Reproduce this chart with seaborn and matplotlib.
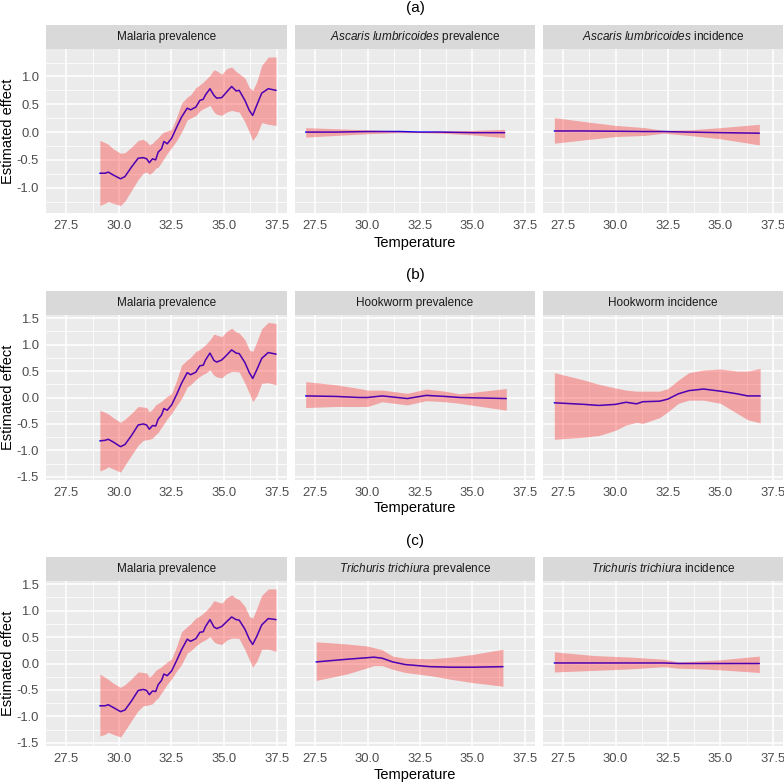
import numpy as np
import pandas as pd
import matplotlib
matplotlib.use("Agg")
import matplotlib.pyplot as plt
import seaborn as sns

# ---- data ----
malaria_temp = [29.10, 29.34, 29.50, 29.73, 30.08, 30.29, 30.60, 30.92, 31.16, 31.32,
                31.45, 31.60, 31.75, 31.87, 32.03, 32.14, 32.30, 32.51, 32.75, 32.98,
                33.25, 33.41, 33.66, 33.85, 34.01, 34.12, 34.33, 34.52, 34.65, 34.89,
                35.12, 35.36, 35.57, 35.72, 35.99, 36.20, 36.36, 36.55, 36.79, 37.10, 37.47]

# (a) malaria
mal_a_fit = [-0.74, -0.74, -0.72, -0.77, -0.84, -0.80, -0.63, -0.47, -0.46, -0.48,
             -0.55, -0.48, -0.50, -0.36, -0.30, -0.17, -0.21, -0.11, 0.09, 0.27,
             0.43, 0.40, 0.45, 0.57, 0.59, 0.67, 0.78, 0.66, 0.61, 0.62,
             0.72, 0.82, 0.74, 0.75, 0.57, 0.39, 0.30, 0.48, 0.70, 0.78, 0.75]
mal_a_hi = [-0.15, -0.19, -0.22, -0.30, -0.38, -0.37, -0.27, -0.15, -0.13, -0.17,
            -0.23, -0.20, -0.14, -0.10, -0.03, 0.00, 0.02, 0.05, 0.27, 0.52,
            0.63, 0.67, 0.80, 0.85, 0.90, 0.94, 1.02, 1.12, 1.10, 1.04,
            1.14, 1.17, 1.09, 1.05, 0.97, 0.80, 0.75, 0.90, 1.20, 1.35, 1.35]
mal_a_lo = [-1.32, -1.28, -1.25, -1.28, -1.32, -1.24, -1.05, -0.85, -0.74, -0.72,
            -0.76, -0.72, -0.65, -0.63, -0.54, -0.48, -0.38, -0.28, -0.15, 0.00,
            0.22, 0.25, 0.30, 0.38, 0.42, 0.44, 0.48, 0.36, 0.32, 0.30,
            0.36, 0.39, 0.37, 0.36, 0.18, 0.00, -0.15, -0.05, 0.17, 0.14, 0.12]

# (b) malaria
mal_b_fit = [-0.82, -0.81, -0.79, -0.84, -0.93, -0.89, -0.72, -0.52, -0.50, -0.52,
             -0.60, -0.53, -0.54, -0.41, -0.33, -0.21, -0.24, -0.14, 0.06, 0.27,
             0.47, 0.43, 0.48, 0.60, 0.61, 0.71, 0.84, 0.70, 0.67, 0.71,
             0.80, 0.90, 0.84, 0.83, 0.66, 0.47, 0.36, 0.52, 0.74, 0.85, 0.82]
mal_b_hi = [-0.24, -0.28, -0.31, -0.38, -0.47, -0.41, -0.30, -0.17, -0.18, -0.19,
            -0.27, -0.22, -0.14, -0.11, -0.07, -0.03, 0.02, 0.08, 0.33, 0.61,
            0.71, 0.76, 0.87, 0.91, 0.96, 1.00, 1.09, 1.20, 1.18, 1.15,
            1.25, 1.31, 1.24, 1.22, 1.09, 0.90, 0.87, 1.05, 1.30, 1.42, 1.40]
mal_b_lo = [-1.39, -1.35, -1.31, -1.35, -1.41, -1.28, -1.09, -0.90, -0.81, -0.80,
            -0.79, -0.77, -0.70, -0.66, -0.56, -0.50, -0.40, -0.30, -0.15, -0.02,
            0.20, 0.24, 0.34, 0.40, 0.44, 0.46, 0.52, 0.42, 0.39, 0.37,
            0.45, 0.49, 0.49, 0.48, 0.27, 0.08, -0.08, 0.03, 0.27, 0.28, 0.24]

# (c) malaria
mal_c_fit = [-0.80, -0.80, -0.78, -0.83, -0.91, -0.88, -0.71, -0.51, -0.49, -0.51,
             -0.59, -0.52, -0.53, -0.40, -0.32, -0.20, -0.23, -0.14, 0.06, 0.26,
             0.46, 0.42, 0.47, 0.59, 0.60, 0.70, 0.83, 0.69, 0.66, 0.70,
             0.79, 0.88, 0.83, 0.82, 0.65, 0.46, 0.36, 0.51, 0.73, 0.85, 0.83]
mal_c_hi = [-0.20, -0.26, -0.30, -0.37, -0.45, -0.40, -0.29, -0.16, -0.17, -0.18,
            -0.26, -0.21, -0.13, -0.10, -0.06, -0.02, 0.03, 0.09, 0.33, 0.60,
            0.70, 0.75, 0.86, 0.90, 0.95, 0.99, 1.08, 1.19, 1.17, 1.14,
            1.24, 1.30, 1.23, 1.21, 1.08, 0.89, 0.86, 1.04, 1.29, 1.41, 1.41]
mal_c_lo = [-1.37, -1.34, -1.30, -1.34, -1.39, -1.27, -1.08, -0.89, -0.80, -0.79,
            -0.78, -0.76, -0.69, -0.65, -0.55, -0.49, -0.39, -0.29, -0.14, -0.02,
            0.20, 0.24, 0.33, 0.39, 0.43, 0.45, 0.51, 0.41, 0.38, 0.36,
            0.44, 0.48, 0.48, 0.47, 0.26, 0.07, -0.07, 0.04, 0.27, 0.27, 0.23]

# (a) Ascaris
asc_prev_temp = [27.05, 28.5, 30.0, 31.5, 32.5, 33.5, 35.0, 36.54]
asc_prev_fit = [0.00, 0.00, 0.01, 0.01, 0.00, 0.00, -0.01, -0.01]
asc_prev_hi = [0.08, 0.06, 0.04, 0.02, 0.01, 0.02, 0.03, 0.05]
asc_prev_lo = [-0.09, -0.06, -0.03, -0.01, -0.01, -0.02, -0.05, -0.10]

asc_inc_temp = [27.08, 28.5, 30.0, 31.4, 32.3, 33.5, 35.0, 36.86]
asc_inc_fit = [0.02, 0.02, 0.015, 0.01, 0.01, 0.00, -0.01, -0.02]
asc_inc_hi = [0.26, 0.19, 0.12, 0.08, 0.03, 0.04, 0.08, 0.14]
asc_inc_lo = [-0.20, -0.14, -0.08, -0.06, -0.02, -0.06, -0.12, -0.23]

# (b) Hookworm
hook_prev_temp = [27.05, 28.5, 29.6, 30.0, 30.7, 31.9, 32.8, 33.7, 34.4, 36.62]
hook_prev_fit = [0.03, 0.02, 0.00, 0.00, 0.03, -0.02, 0.04, 0.02, 0.00, -0.02]
hook_prev_hi = [0.30, 0.24, 0.17, 0.14, 0.14, 0.08, 0.16, 0.12, 0.07, 0.17]
hook_prev_lo = [-0.19, -0.17, -0.17, -0.17, -0.08, -0.14, -0.06, -0.08, -0.11, -0.24]

hook_inc_temp = [27.08, 28.5, 29.2, 30.0, 30.5, 31.0, 31.3, 32.1, 32.5, 33.0,
                 33.5, 34.2, 35.0, 35.8, 36.3, 36.9]
hook_inc_fit = [-0.10, -0.13, -0.15, -0.13, -0.09, -0.12, -0.08, -0.07, -0.03, 0.07,
                0.13, 0.16, 0.12, 0.07, 0.03, 0.03]
hook_inc_hi = [0.47, 0.33, 0.25, 0.18, 0.14, 0.12, 0.12, 0.12, 0.17, 0.33,
               0.47, 0.52, 0.54, 0.50, 0.50, 0.55]
hook_inc_lo = [-0.79, -0.75, -0.72, -0.62, -0.52, -0.47, -0.49, -0.38, -0.27, -0.11,
               -0.05, -0.05, -0.11, -0.30, -0.42, -0.48]

# (c) Trichuris
tri_prev_temp = [27.55, 29.0, 30.0, 30.3, 30.7, 31.2, 31.8, 33.0, 34.0, 35.0, 36.46]
tri_prev_fit = [0.03, 0.08, 0.11, 0.12, 0.10, 0.03, -0.02, -0.06, -0.07, -0.07, -0.06]
tri_prev_hi = [0.41, 0.37, 0.33, 0.30, 0.26, 0.14, 0.10, 0.09, 0.12, 0.17, 0.27]
tri_prev_lo = [-0.32, -0.20, -0.08, -0.04, -0.04, -0.11, -0.17, -0.23, -0.30, -0.36, -0.43]

tri_inc_temp = [27.08, 29.0, 30.8, 32.3, 33.0, 34.0, 35.0, 36.86]
tri_inc_fit = [0.01, 0.01, 0.01, 0.01, 0.00, 0.00, 0.00, 0.00]
tri_inc_hi = [0.22, 0.15, 0.12, 0.08, 0.03, 0.05, 0.07, 0.14]
tri_inc_lo = [-0.16, -0.13, -0.10, -0.06, -0.09, -0.10, -0.12, -0.17]

x_ticks = [27.5, 30.0, 32.5, 35.0, 37.5]

# ---- style ----
sns.set_theme(style="darkgrid", rc={"axes.facecolor": "#EBEBEB",
                                    "grid.color": "white",
                                    "figure.facecolor": "white"})
plt.rcParams["font.family"] = ["Liberation Sans", "DejaVu Sans"]
plt.rcParams["mathtext.fontset"] = "custom"
plt.rcParams["mathtext.it"] = "Liberation Sans:italic"
plt.rcParams["mathtext.rm"] = "Liberation Sans"
plt.rcParams["axes.unicode_minus"] = False

W = H = 784.0
fig = plt.figure(figsize=(7.84, 7.84), dpi=100)


def box(x0, y0, x1, y1):
    return [x0 / W, 1 - y1 / H, (x1 - x0) / W, (y1 - y0) / H]


cols = [(46, 287), (295, 535), (543, 783)]
rows = [
    dict(label="(a)", ty=8, strip=25, top=49, bot=213, xl=243,
         ylim=(-1.455, 1.494), yticks=[-1.0, -0.5, 0.0, 0.5, 1.0],
         panels=[("Malaria prevalence", malaria_temp, mal_a_fit, mal_a_lo, mal_a_hi),
                 (r"$\mathit{Ascaris}$ $\mathit{lumbricoides}$ prevalence",
                  asc_prev_temp, asc_prev_fit, asc_prev_lo, asc_prev_hi),
                 (r"$\mathit{Ascaris}$ $\mathit{lumbricoides}$ incidence",
                  asc_inc_temp, asc_inc_fit, asc_inc_lo, asc_inc_hi)]),
    dict(label="(b)", ty=275, strip=291, top=315, bot=480, xl=508,
         ylim=(-1.56, 1.56), yticks=[-1.5, -1.0, -0.5, 0.0, 0.5, 1.0, 1.5],
         panels=[("Malaria prevalence", malaria_temp, mal_b_fit, mal_b_lo, mal_b_hi),
                 ("Hookworm prevalence", hook_prev_temp, hook_prev_fit, hook_prev_lo, hook_prev_hi),
                 ("Hookworm incidence", hook_inc_temp, hook_inc_fit, hook_inc_lo, hook_inc_hi)]),
    dict(label="(c)", ty=541, strip=557, top=581, bot=746, xl=775,
         ylim=(-1.56, 1.56), yticks=[-1.5, -1.0, -0.5, 0.0, 0.5, 1.0, 1.5],
         panels=[("Malaria prevalence", malaria_temp, mal_c_fit, mal_c_lo, mal_c_hi),
                 (r"$\mathit{Trichuris}$ $\mathit{trichiura}$ prevalence",
                  tri_prev_temp, tri_prev_fit, tri_prev_lo, tri_prev_hi),
                 (r"$\mathit{Trichuris}$ $\mathit{trichiura}$ incidence",
                  tri_inc_temp, tri_inc_fit, tri_inc_lo, tri_inc_hi)]),
]

for row in rows:
    yt = row["yticks"]
    y_minor = [v + 0.25 for v in yt[:-1]]
    if row["ylim"][0] < yt[0] - 0.25:
        y_minor = [yt[0] - 0.25] + y_minor
    if row["ylim"][1] > yt[-1] + 0.25:
        y_minor = y_minor + [yt[-1] + 0.25]
    for j, (title, temp, fit, lo, hi) in enumerate(row["panels"]):
        x0, x1 = cols[j]
        ax = fig.add_axes(box(x0, row["top"], x1, row["bot"]))
        df = pd.DataFrame({"Temperature": temp, "effect": fit})
        sns.lineplot(data=df, x="Temperature", y="effect", ax=ax,
                     color="blue", lw=1.1, zorder=2)
        ax.fill_between(temp, lo, hi, color="red", alpha=0.3, lw=0, zorder=3)
        ax.set_xlim(26.54, 37.99)
        ax.set_ylim(*row["ylim"])
        ax.set_xticks(x_ticks)
        ax.set_xticklabels([f"{v:.1f}" for v in x_ticks])
        ax.set_xticks([28.75, 31.25, 33.75, 36.25], minor=True)
        ax.set_yticks(yt)
        ax.set_yticklabels([f"{v:.1f}" for v in yt])
        ax.set_yticks(y_minor, minor=True)
        ax.grid(which="major", color="white", lw=1.1)
        ax.grid(which="minor", color="white", lw=0.55)
        ax.set_axisbelow(True)
        ax.set_xlabel("")
        ax.set_ylabel("")
        for s in ax.spines.values():
            s.set_visible(False)
        ax.tick_params(which="major", length=3, width=0.6, color="#333333",
                       labelsize=9.4, labelcolor="#4D4D4D", pad=2)
        ax.tick_params(which="minor", length=0)
        if j > 0:
            ax.tick_params(axis="y", left=False, labelleft=False)

        sax = fig.add_axes(box(x0, row["strip"], x1, row["top"]))
        sax.set_facecolor("#D9D9D9")
        sax.set_xticks([])
        sax.set_yticks([])
        sax.grid(False)
        for s in sax.spines.values():
            s.set_visible(False)
        sax.text(0.5, 0.5, title, ha="center", va="center", fontsize=8.5,
                 color="#1A1A1A", transform=sax.transAxes)

    fig.text(415 / W, 1 - row["ty"] / H, row["label"], ha="center", va="center",
             fontsize=11, color="black")
    fig.text(415 / W, 1 - row["xl"] / H, "Temperature", ha="center", va="center",
             fontsize=10.5, color="black")
    fig.text(8 / W, 1 - (row["top"] + row["bot"]) / 2 / H, "Estimated effect",
             ha="center", va="center", rotation=90, fontsize=10.5, color="black")

fig.savefig("out.png", dpi=100)
